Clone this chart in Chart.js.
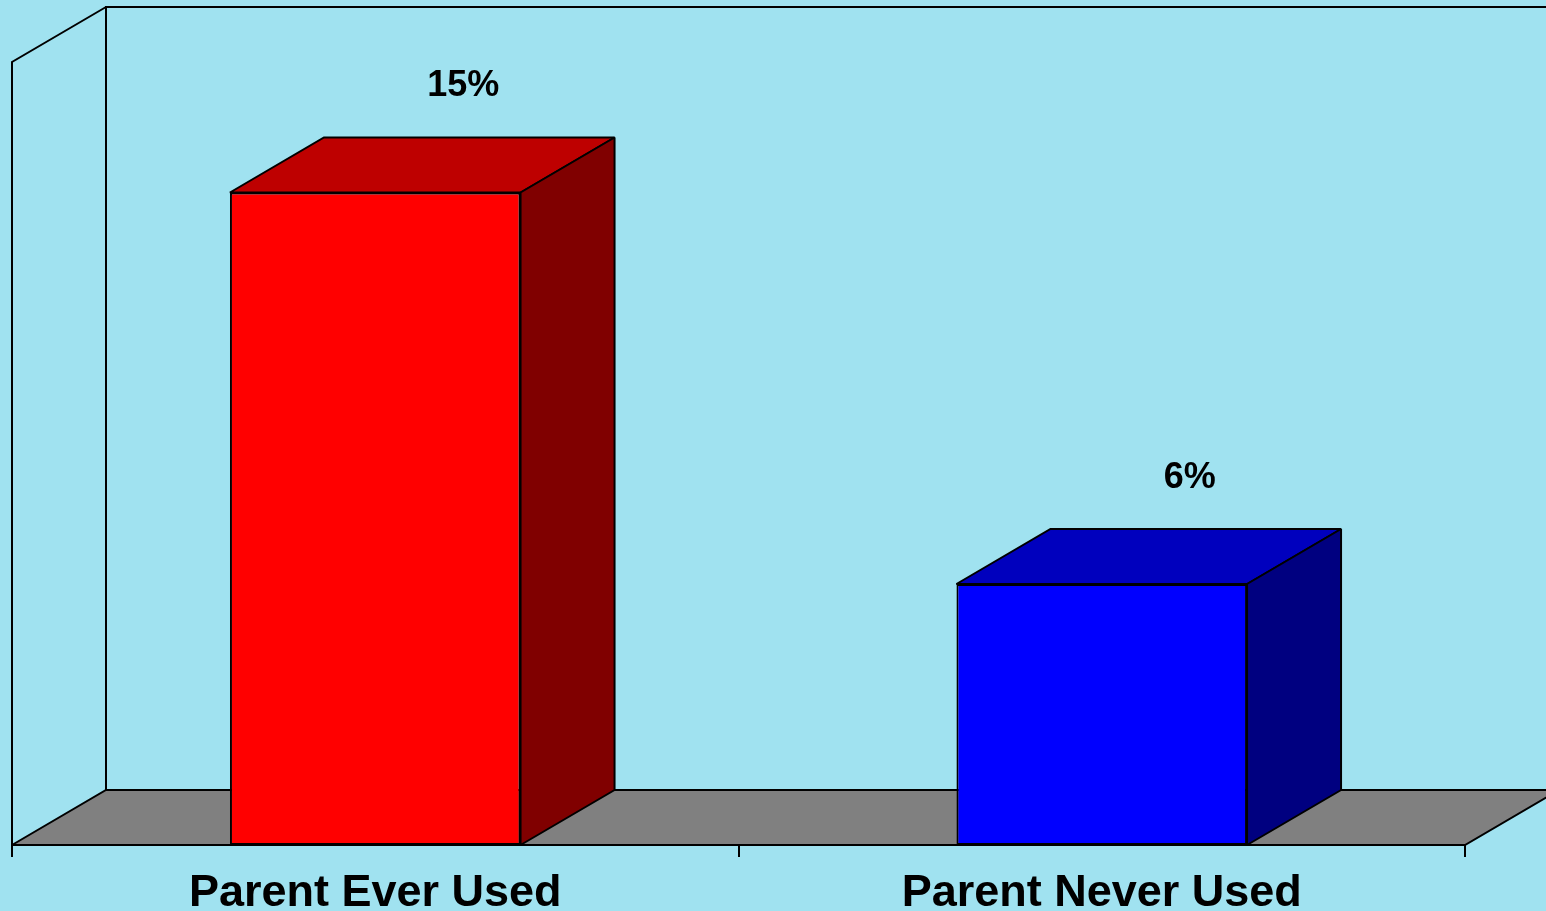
<!DOCTYPE html>
<html><head><meta charset="utf-8">
<script src="https://cdn.jsdelivr.net/npm/chart.js@4.4.0/dist/chart.umd.min.js"></script>
<style>html,body{margin:0;padding:0;background:#A0E2F0;overflow:hidden}#wrap{width:1546px;height:911px}</style>
</head><body><div id="wrap"><canvas id="c" width="1546" height="911"></canvas></div>
<script>
const categories = ['Parent Ever Used', 'Parent Never Used'];
const values = [15, 6];
const valueLabels = ['15%', '6%'];
const frontColors = ['#FF0000', '#0000FF'];
const topColors = ['#BE0000', '#0000BE'];
const sideColors = ['#800000', '#000080'];
const yMin = 0, yMax = 18;

const DX = 94, DY = 55;
const BG = '#A0E2F0';

const scene = {
  id: 'scene',
  beforeDraw(chart) {
    const ctx = chart.ctx;
    ctx.save(); ctx.fillStyle = BG; ctx.fillRect(0, 0, chart.width, chart.height); ctx.restore();
  },
  beforeDatasetsDraw(chart) {
    const ctx = chart.ctx, a = chart.chartArea;
    ctx.save();
    ctx.lineWidth = 2; ctx.strokeStyle = '#000'; ctx.lineJoin = 'miter'; ctx.miterLimit = 2;
    ctx.beginPath();
    ctx.moveTo(a.left + DX, a.bottom - DY); ctx.lineTo(a.left + DX, a.top - DY);
    ctx.lineTo(a.right + DX, a.top - DY); ctx.lineTo(a.right + DX, a.bottom - DY);
    ctx.stroke();
    ctx.beginPath();
    ctx.moveTo(a.left, a.bottom); ctx.lineTo(a.left, a.top);
    ctx.lineTo(a.left + DX, a.top - DY); ctx.lineTo(a.left + DX, a.bottom - DY);
    ctx.stroke();
    ctx.beginPath();
    ctx.moveTo(a.left, a.bottom); ctx.lineTo(a.right, a.bottom);
    ctx.lineTo(a.right + DX, a.bottom - DY); ctx.lineTo(a.left + DX, a.bottom - DY);
    ctx.closePath(); ctx.fillStyle = '#808080'; ctx.fill(); ctx.stroke();
    ctx.restore();
  },
  afterDatasetsDraw(chart) {
    const ctx = chart.ctx;
    const meta = chart.getDatasetMeta(0);
    ctx.save();
    ctx.lineWidth = 2; ctx.strokeStyle = '#000'; ctx.lineJoin = 'miter'; ctx.miterLimit = 2;
    meta.data.forEach((bar, i) => {
      const p = bar.getProps(['x', 'y', 'base', 'width'], true);
      const l = p.x - p.width / 2, r = p.x + p.width / 2;
      ctx.beginPath();
      ctx.moveTo(l, p.y); ctx.lineTo(l + DX, p.y - DY); ctx.lineTo(r + DX, p.y - DY); ctx.lineTo(r, p.y);
      ctx.closePath(); ctx.fillStyle = topColors[i]; ctx.fill(); ctx.stroke();
      ctx.beginPath();
      ctx.moveTo(r, p.y); ctx.lineTo(r + DX, p.y - DY); ctx.lineTo(r + DX, p.base - DY); ctx.lineTo(r, p.base);
      ctx.closePath(); ctx.fillStyle = sideColors[i]; ctx.fill(); ctx.stroke();
      ctx.fillStyle = '#000';
      ctx.font = 'bold 36px "Liberation Sans", Arial, sans-serif';
      ctx.textAlign = 'center'; ctx.textBaseline = 'middle';
      ctx.fillText(valueLabels[i], p.x + 88, p.y - 106);
    });
    ctx.restore();
  }
};

new Chart(document.getElementById('c'), {
  type: 'bar',
  data: {
    labels: categories,
    datasets: [{
      data: values,
      backgroundColor: frontColors,
      borderColor: '#000',
      borderWidth: 2,
      borderSkipped: false,
      categoryPercentage: 0.8,
      barPercentage: 0.5
    }]
  },
  options: {
    responsive: false,
    devicePixelRatio: 1,
    animation: false,
    layout: { padding: { left: 12, right: 81, top: 62, bottom: 0 } },
    plugins: { legend: { display: false }, tooltip: { enabled: false } },
    scales: {
      x: {
        offset: true,
        grid: { display: true, offset: true, drawOnChartArea: false, drawTicks: true, tickLength: 12, color: '#000', lineWidth: 2 },
        border: { display: true, color: '#000', width: 2 },
        ticks: { color: '#000', padding: 14, maxRotation: 0, autoSkip: false,
          font: { family: '"Liberation Sans", Arial, sans-serif', size: 45, weight: 'bold', lineHeight: 1.0 } },
        afterFit(scale) { scale.height = 66; }
      },
      y: { display: false, min: yMin, max: yMax }
    }
  },
  plugins: [scene]
});
</script></body></html>
